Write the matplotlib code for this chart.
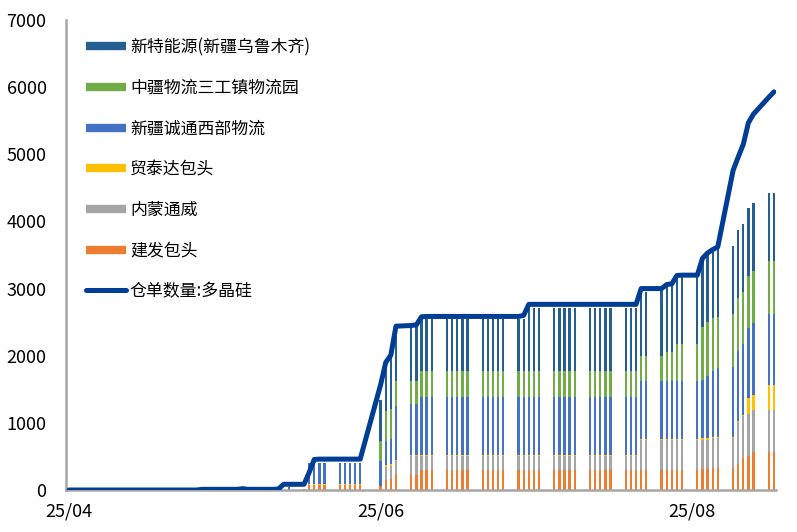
import pandas as pd
import matplotlib
matplotlib.use('Agg')
import matplotlib.pyplot as plt
from matplotlib.lines import Line2D

plt.rcParams['font.family'] = ['Noto Sans CJK SC', 'DejaVu Sans']

# 交易日 (line) : 2025-04-03 ~ 2025-08-19, 去掉节假日
holidays = ['2025-04-04', '2025-05-01', '2025-05-02', '2025-05-05', '2025-06-02']
line_dates = pd.bdate_range('2025-04-03', '2025-08-19')
line_dates = line_dates[~line_dates.isin(pd.to_datetime(holidays))]

# 仓单数量:多晶硅 (按周一行)
total = [0,
         0, 0, 0, 0, 0,
         0, 0, 0, 0, 0,
         0, 0, 0, 0, 0,
         0, 10, 10,
         10, 20, 10, 10,
         10, 10, 15, 85, 85,
         85, 260, 455, 460, 460,
         460, 460, 460, 460, 460,
         1570, 1900, 2010, 2440,
         2450, 2460, 2580, 2585, 2585,
         2585, 2585, 2585, 2585, 2585,
         2585, 2585, 2585, 2585, 2585,
         2585, 2600, 2765, 2765, 2765,
         2765, 2765, 2765, 2765, 2765,
         2765, 2765, 2765, 2765, 2765,
         2765, 2765, 2765, 3000, 3000,
         3000, 3060, 3070, 3195, 3200,
         3200, 3450, 3530, 3580, 3620,
         4760, 4960, 5150, 5470, 5600,
         5850, 5930]

# 分仓库数据
bar_dates = ['2025-05-16',
             '2025-05-19', '2025-05-20', '2025-05-21', '2025-05-22', '2025-05-23',
             '2025-05-26', '2025-05-27', '2025-05-28', '2025-05-29', '2025-05-30',
             '2025-06-03', '2025-06-04', '2025-06-05', '2025-06-06',
             '2025-06-09', '2025-06-10', '2025-06-11', '2025-06-12', '2025-06-13',
             '2025-06-16', '2025-06-17', '2025-06-18', '2025-06-19', '2025-06-20',
             '2025-06-23', '2025-06-24', '2025-06-25', '2025-06-26', '2025-06-27',
             '2025-06-30', '2025-07-01', '2025-07-02', '2025-07-03', '2025-07-04',
             '2025-07-07', '2025-07-08', '2025-07-09', '2025-07-10', '2025-07-11',
             '2025-07-14', '2025-07-15', '2025-07-16', '2025-07-17', '2025-07-18',
             '2025-07-21', '2025-07-22', '2025-07-23', '2025-07-24', '2025-07-25',
             '2025-07-28', '2025-07-29', '2025-07-30', '2025-07-31', '2025-08-01',
             '2025-08-04', '2025-08-05', '2025-08-06', '2025-08-07', '2025-08-08',
             '2025-08-11', '2025-08-12', '2025-08-13', '2025-08-14', '2025-08-15',
             '2025-08-18', '2025-08-19']

jianfa = [0,
          0, 70, 70, 70, 70,
          75, 75, 75, 75, 75,
          55, 150, 160, 235,
          225, 225, 300, 300, 300,
          300, 300, 300, 300, 300,
          300, 300, 300, 300, 300,
          300, 300, 300, 300, 300,
          300, 300, 300, 300, 300,
          300, 300, 300, 300, 300,
          300, 300, 300, 300, 300,
          300, 300, 300, 300, 300,
          295, 318, 310, 328, 328,
          323, 393, 482, 507, 567,
          567, 567]

tongwei = [0,
           0, 0, 0, 0, 0,
           0, 0, 0, 0, 0,
           0, 200, 195, 200,
           280, 280, 205, 205, 205,
           205, 205, 205, 205, 205,
           205, 205, 205, 205, 205,
           205, 205, 205, 205, 205,
           205, 205, 205, 205, 205,
           205, 205, 205, 205, 205,
           205, 205, 205, 440, 440,
           440, 440, 440, 440, 440,
           447, 432, 441, 443, 443,
           448, 622, 622, 622, 627,
           627, 627]

maotaida = [0,
            0, 15, 15, 15, 15,
            12, 12, 12, 12, 12,
            10, 25, 25, 10,
            17, 17, 15, 15, 15,
            15, 15, 15, 15, 15,
            15, 15, 15, 15, 15,
            15, 15, 15, 15, 15,
            15, 15, 15, 15, 15,
            15, 15, 15, 15, 15,
            15, 15, 15, 15, 15,
            15, 15, 15, 15, 15,
            15, 20, 20, 20, 20,
            20, 15, 15, 234, 224,
            373, 373]

chengtong = [40,
             20, 320, 320, 320, 320,
             320, 320, 320, 320, 320,
             370, 360, 375, 810,
             757, 757, 870, 870, 870,
             870, 870, 870, 870, 870,
             870, 870, 870, 870, 870,
             870, 870, 870, 870, 870,
             870, 870, 870, 870, 870,
             870, 870, 870, 870, 870,
             870, 870, 870, 870, 870,
             870, 870, 870, 870, 870,
             871, 867, 931, 975, 1020,
             1045, 1045, 1055, 1045, 1064,
             1055, 1055]

zhongjiang = [0,
              0, 0, 0, 0, 0,
              0, 0, 0, 0, 0,
              290, 445, 450, 362,
              348, 348, 375, 375, 375,
              375, 375, 375, 375, 375,
              375, 375, 375, 375, 375,
              375, 375, 375, 375, 375,
              375, 375, 375, 375, 375,
              375, 375, 375, 375, 375,
              375, 375, 375, 373, 373,
              373, 423, 423, 553, 553,
              547, 796, 796, 791, 771,
              786, 786, 781, 786, 787,
              796, 796]

xinte = [0,
         0, 0, 0, 0, 0,
         0, 0, 0, 0, 0,
         620, 745, 800, 832,
         803, 803, 785, 785, 785,
         785, 785, 785, 785, 785,
         785, 785, 785, 785, 785,
         785, 785, 945, 945, 945,
         945, 945, 945, 945, 945,
         945, 945, 945, 945, 945,
         945, 945, 945, 945, 945,
         970, 970, 1010, 1010, 1010,
         1076, 1007, 1020, 1010, 1034,
         1010, 1005, 1000, 1005, 1005,
         1005, 1005]

series = [('建发包头', jianfa, '#ED7D31'),
          ('内蒙通威', tongwei, '#A5A5A5'),
          ('贸泰达包头', maotaida, '#FFC000'),
          ('新疆诚通西部物流', chengtong, '#4472C4'),
          ('中疆物流三工镇物流园', zhongjiang, '#70AD47'),
          ('新特能源(新疆乌鲁木齐)', xinte, '#255E91')]
line_name = '仓单数量:多晶硅'
line_color = '#003E96'

tick_dates = ['2025-04-03', '2025-06-03', '2025-08-03']
tick_labels = ['25/04', '25/06', '25/08']

fig = plt.figure(figsize=(7.97, 5.32), dpi=100)
ax = fig.add_axes([66 / 797, 1 - 490 / 532, 710 / 797, 470 / 532])

bx = pd.to_datetime(bar_dates)
bottom = [0] * len(bar_dates)
for name, vals, c in series:
    ax.bar(bx, vals, width=0.45, bottom=bottom, color=c, linewidth=0, zorder=2)
    bottom = [b + v for b, v in zip(bottom, vals)]

ax.plot(line_dates, total, color=line_color, lw=3.6, solid_joinstyle='round',
        solid_capstyle='round', zorder=3)

d0 = pd.Timestamp('2025-04-03')
ax.set_xlim(d0 - pd.Timedelta(days=0.6), d0 + pd.Timedelta(days=138.4))
ax.set_ylim(0, 7000)
ax.set_yticks(range(0, 7001, 1000))
ax.set_xticks(pd.to_datetime(tick_dates))
ax.set_xticklabels(tick_labels)

for s in ['top', 'right']:
    ax.spines[s].set_visible(False)
for s in ['left', 'bottom']:
    ax.spines[s].set_color('#A6A6A6')
    ax.spines[s].set_linewidth(1.8)
ax.tick_params(axis='both', length=0, labelsize=13, colors='black')
ax.tick_params(axis='y', pad=14)
ax.tick_params(axis='x', pad=9)

handles = [Line2D([], [], color=c, lw=6, solid_capstyle='butt') for _, _, c in series[::-1]]
handles.append(Line2D([], [], color=line_color, lw=3.6, solid_capstyle='round'))
labels = [n for n, _, _ in series[::-1]] + [line_name]
ax.legend(handles, labels, loc='upper left', bbox_to_anchor=(0.028, 0.962),
          frameon=False, fontsize=12.2, handlelength=2.35, handletextpad=0.25,
          labelspacing=1.34, borderpad=0, borderaxespad=0)

fig.savefig('out.png', dpi=100)
